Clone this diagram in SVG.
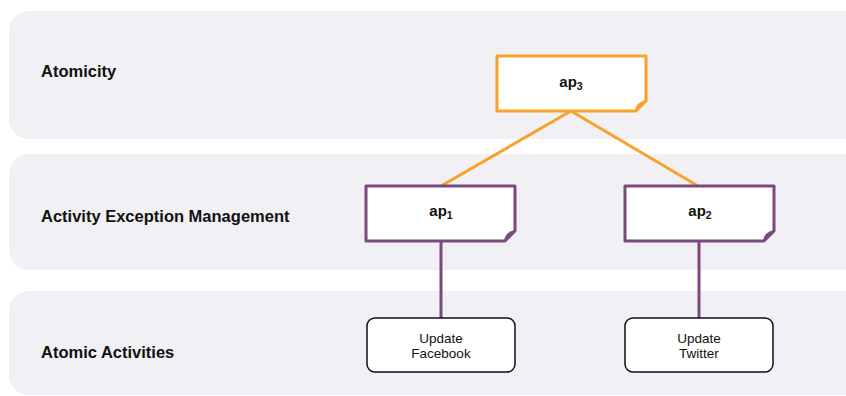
<svg xmlns="http://www.w3.org/2000/svg" width="846" height="396" viewBox="0 0 846 396">
<style>
.lane{fill:#f1f0f5}
.lbl{font-family:"Liberation Sans",Arial,sans-serif;font-weight:bold;font-size:16.5px;fill:#111}
.ap{font-family:"Liberation Sans",Arial,sans-serif;font-weight:bold;font-size:15px;fill:#111;text-anchor:middle}
.act{font-family:"Liberation Sans",Arial,sans-serif;font-size:13.5px;fill:#111;text-anchor:middle}
.or{fill:#fff;stroke:#f8a22c;stroke-width:3;stroke-linejoin:round}
.pu{fill:#fff;stroke:#7a4a7e;stroke-width:3;stroke-linejoin:round}
.orf{fill:#f8a22c}
.puf{fill:#7a4a7e}
.box{fill:#fff;stroke:#111;stroke-width:1.5}
</style>
<g id="lanes">
<rect class="lane" x="9" y="11" width="870" height="128" rx="20"/>
<rect class="lane" x="9" y="154" width="870" height="116" rx="20"/>
<rect class="lane" x="9" y="291" width="870" height="104" rx="20"/>
<text class="lbl" x="41" y="77">Atomicity</text>
<text class="lbl" x="41" y="222">Activity Exception Management</text>
<text class="lbl" x="41" y="358">Atomic Activities</text>
</g>
<g id="connectors">
<line x1="571" y1="111" x2="441" y2="186" stroke="#f8a22c" stroke-width="3"/>
<line x1="571" y1="111" x2="698" y2="186" stroke="#f8a22c" stroke-width="3"/>
<line x1="441" y1="241" x2="441" y2="318" stroke="#7a4a7e" stroke-width="3"/>
<line x1="699" y1="241" x2="699" y2="318" stroke="#7a4a7e" stroke-width="3"/>
</g>
<g id="ap3">
<path class="or" d="M497,56 H646 V101 L636,111 H497 Z"/>
<path class="orf" d="M646,100 L635,111 Q636,102 646,100 Z"/>
<text class="ap" x="571" y="87">ap<tspan font-size="10.5" dy="3">3</tspan></text>
</g>
<g id="ap1">
<path class="pu" d="M366,186 H515 V231 L505,241 H366 Z"/>
<path class="puf" d="M515,230 L504,241 Q505,232 515,230 Z"/>
<text class="ap" x="441" y="216">ap<tspan font-size="10.5" dy="3">1</tspan></text>
</g>
<g id="ap2">
<path class="pu" d="M625,186 H774 V231 L764,241 H625 Z"/>
<path class="puf" d="M774,230 L763,241 Q764,232 774,230 Z"/>
<text class="ap" x="700" y="216">ap<tspan font-size="10.5" dy="3">2</tspan></text>
</g>
<g id="facebook">
<rect class="box" x="367" y="318" width="148" height="54" rx="8"/>
<text class="act" x="441" y="343">Update</text>
<text class="act" x="441" y="358">Facebook</text>
</g>
<g id="twitter">
<rect class="box" x="625" y="318" width="148" height="54" rx="8"/>
<text class="act" x="699" y="343">Update</text>
<text class="act" x="699" y="358">Twitter</text>
</g>
</svg>
